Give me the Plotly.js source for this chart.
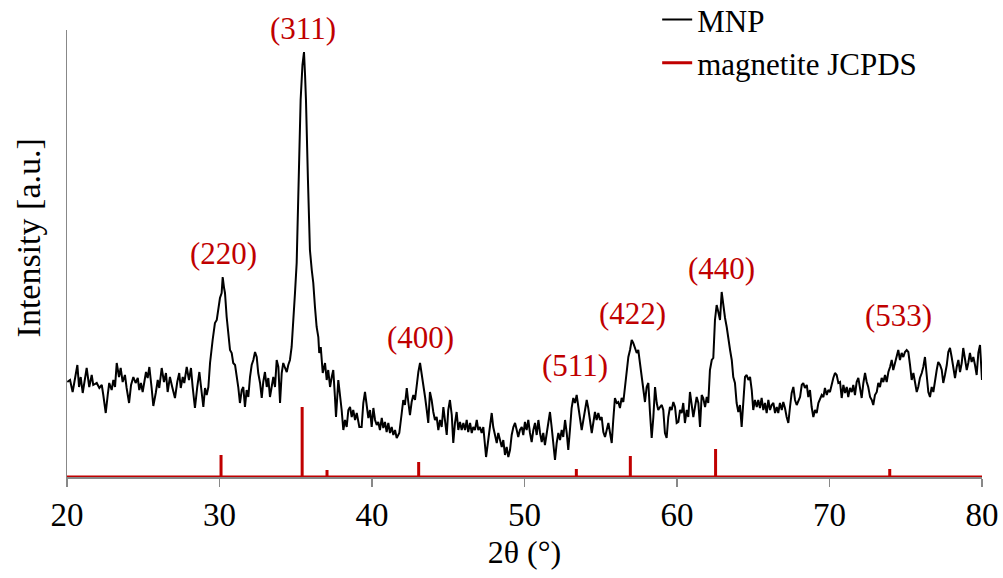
<!DOCTYPE html>
<html>
<head>
<meta charset="utf-8">
<script src="https://cdn.plot.ly/plotly-3.0.1.min.js"></script>
<style>
html,body{margin:0;padding:0;background:#fff;}
#chart{width:1003px;height:578px;}
</style>
</head>
<body>
<div id="chart"></div>
<script>
// Measured XRD pattern (MNP): 2θ (degrees) and intensity (a.u.)
const twoTheta = [
20.02,20.20,20.37,20.52,20.68,20.79,20.90,21.03,21.18,21.29,21.46,21.62,21.72,21.95,22.12,22.28,22.38,22.54,22.67,22.77,
22.93,23.04,23.15,23.26,23.41,23.52,23.65,23.80,23.91,24.07,24.20,24.35,24.50,24.64,24.74,24.85,24.96,25.07,25.18,25.29,
25.40,25.55,25.66,25.82,25.95,26.05,26.21,26.36,26.49,26.60,26.75,26.90,27.08,27.23,27.36,27.46,27.59,27.69,27.85,28.00,
28.13,28.24,28.39,28.54,28.68,28.79,28.94,29.05,29.16,29.27,29.38,29.55,29.70,29.82,29.92,30.03,30.14,30.21,30.30,30.36,
30.47,30.58,30.69,30.80,30.90,31.02,31.13,31.23,31.34,31.46,31.56,31.67,31.78,31.89,32.00,32.11,32.22,32.33,32.44,32.54,
32.66,32.77,32.87,32.98,33.10,33.20,33.31,33.42,33.53,33.64,33.75,33.86,33.97,34.08,34.18,34.30,34.41,34.51,34.62,34.73,
34.84,34.95,35.06,35.18,35.32,35.44,35.54,35.61,35.67,35.80,35.93,36.05,36.15,36.26,36.37,36.48,36.54,36.64,36.77,36.92,
37.03,37.13,37.25,37.36,37.46,37.57,37.64,37.79,37.90,38.01,38.12,38.23,38.34,38.45,38.56,38.67,38.77,38.89,39.00,39.17,
39.32,39.43,39.54,39.65,39.76,39.87,39.98,40.09,40.20,40.31,40.41,40.52,40.64,40.74,40.85,40.96,41.07,41.18,41.29,41.40,
41.51,41.62,41.79,41.95,42.05,42.16,42.28,42.38,42.49,42.60,42.71,42.82,42.93,43.04,43.15,43.26,43.36,43.48,43.59,43.69,
43.80,43.91,44.02,44.13,44.24,44.35,44.46,44.57,44.68,44.79,44.90,45.00,45.11,45.23,45.33,45.44,45.55,45.66,45.77,45.88,
45.99,46.10,46.21,46.31,46.43,46.54,46.64,46.75,46.87,46.97,47.08,47.19,47.30,47.48,47.63,47.74,47.85,47.95,48.07,48.18,
48.28,48.51,48.61,48.72,48.83,48.94,49.05,49.16,49.27,49.38,49.49,49.59,49.70,49.82,49.92,50.03,50.14,50.25,50.36,50.47,
50.58,50.69,50.80,50.91,51.02,51.13,51.23,51.34,51.46,51.56,51.67,51.78,51.89,52.00,52.11,52.22,52.33,52.44,52.54,52.66,
52.77,52.87,52.98,53.09,53.20,53.31,53.42,53.53,53.64,53.75,53.86,53.97,54.08,54.18,54.30,54.41,54.51,54.62,54.73,54.84,
54.95,55.06,55.17,55.28,55.39,55.50,55.61,55.72,55.82,55.93,56.05,56.15,56.26,56.37,56.48,56.59,56.70,56.81,56.92,57.03,
57.13,57.25,57.36,57.46,57.57,57.69,57.79,57.90,58.01,58.12,58.23,58.34,58.45,58.56,58.67,58.77,58.89,59.00,59.10,59.21,
59.32,59.43,59.54,59.65,59.76,59.87,59.98,60.09,60.20,60.31,60.41,60.52,60.64,60.74,60.85,60.96,61.07,61.18,61.29,61.40,
61.51,61.62,61.72,61.84,61.95,62.05,62.16,62.28,62.38,62.49,62.60,62.71,62.82,62.93,63.04,63.15,63.26,63.36,63.48,63.59,
63.69,63.80,63.91,64.02,64.13,64.24,64.35,64.46,64.57,64.68,64.79,64.90,65.00,65.11,65.23,65.33,65.44,65.55,65.66,65.77,
65.88,65.99,66.10,66.21,66.32,66.43,66.54,66.64,66.75,66.87,66.97,67.08,67.19,67.30,67.41,67.52,67.63,67.74,67.85,67.95,
68.07,68.18,68.28,68.39,68.51,68.61,68.72,68.83,68.94,69.05,69.16,69.27,69.49,69.60,69.70,69.82,69.92,70.03,70.14,70.25,
70.36,70.47,70.58,70.69,70.80,70.91,71.02,71.13,71.23,71.34,71.46,71.56,71.67,71.78,71.89,72.00,72.11,72.22,72.33,72.44,
72.54,72.66,72.77,72.87,72.98,73.10,73.20,73.31,73.42,73.53,73.64,73.75,73.86,73.97,74.08,74.18,74.30,74.41,74.51,74.62,
74.73,74.84,74.95,75.06,75.17,75.28,75.39,75.50,75.61,75.72,75.82,75.93,76.05,76.15,76.26,76.37,76.48,76.59,76.70,76.81,
76.92,77.03,77.13,77.25,77.36,77.46,77.57,77.69,77.79,77.90,78.01,78.12,78.23,78.34,78.45,78.56,78.67,78.77,78.89,79.00,
79.10,79.21,79.32,79.43,79.54,79.65,79.76,79.87,80.00
];
const intensity = [
95,97,85,100,112,90,100,84,97,109,90,102,92,94,89,92,82,64,82,94,
87,97,90,114,100,109,95,102,89,74,92,100,94,99,87,94,85,97,105,99,
110,89,71,84,97,89,109,95,104,85,100,90,79,95,104,89,100,94,110,97,
109,90,69,90,105,90,70,89,82,90,114,137,154,157,167,179,184,200,189,184,
160,144,127,124,114,112,102,90,74,87,90,70,87,80,100,112,117,125,120,104,
94,79,95,105,90,99,80,92,100,90,117,110,74,104,114,109,105,112,117,130,
154,184,214,297,377,412,425,402,377,297,227,207,194,170,150,140,124,130,104,114,
97,107,90,100,107,80,60,97,84,67,47,57,50,67,70,60,67,57,64,50,
50,74,85,70,59,67,50,69,57,52,55,47,59,49,55,45,54,44,50,42,
47,39,44,64,77,72,89,75,62,75,82,77,94,105,114,104,94,80,67,54,
85,77,65,57,60,47,57,50,70,57,42,67,77,62,34,54,65,47,55,47,
54,47,57,45,54,44,50,47,57,47,50,44,50,20,37,47,64,50,40,34,
44,30,37,22,30,20,27,42,50,54,47,40,47,50,42,55,47,57,44,35,
47,54,42,57,44,35,44,32,44,57,65,50,30,17,34,44,37,47,40,57,
44,27,47,69,79,74,82,70,57,47,57,67,77,69,54,44,54,65,57,64,
57,60,45,40,47,54,44,34,57,79,74,75,69,79,75,90,104,120,127,137,
134,129,124,127,114,104,90,75,90,94,64,39,60,90,74,67,70,72,67,44,
39,60,70,67,75,70,54,55,67,64,74,54,67,60,85,74,60,70,80,74,
50,82,79,70,80,74,107,117,119,157,172,165,157,185,170,159,150,137,127,117,
100,94,74,65,72,50,74,100,102,97,100,87,67,77,70,77,69,79,67,74,
64,77,67,72,74,64,70,64,74,67,75,69,60,54,70,84,90,77,72,75,
80,92,94,89,92,80,87,70,60,67,64,74,82,80,89,82,87,85,94,99,
104,102,94,95,79,92,84,90,80,89,85,92,82,95,99,90,79,94,104,95,
90,80,77,72,82,85,94,90,99,95,102,95,105,110,117,107,115,120,127,117,
124,120,125,127,125,112,97,104,95,85,90,99,104,110,120,105,85,80,90,85,
99,107,115,112,107,94,102,112,125,129,120,107,99,110,117,105,114,129,117,107,
114,124,115,120,112,102,124,132,97
];

// Magnetite JCPDS reference lines: 2θ position and relative intensity
const refPos = [30.10, 35.42, 37.05, 43.06, 53.40, 56.94, 62.53, 73.95];
const refInt = [22, 70, 7, 15, 8, 21, 28, 8];

// Miller index labels and their placement (the (311) label sits at the top edge, nudged up)
const hklLabels = ["(220)", "(311)", "(400)", "(511)", "(422)", "(440)", "(533)"];
const hklX = [30.23, 35.48, 43.15, 53.31, 57.05, 62.89, 74.50];
const hklY = [224, 445, 140, 112, 164, 209, 162];
const hklShift = [0, 4, 0, 0, 0, 0, 0];

const xTicks = [20, 30, 40, 50, 60, 70, 80];

// Build the stick pattern (baseline with vertical sticks) from the reference arrays
const refX = [xTicks[0]];
const refY = [0];
refPos.forEach((p, i) => {
  refX.push(p, p, p);
  refY.push(0, refInt[i], 0);
});
refX.push(xTicks[xTicks.length - 1]);
refY.push(0);

const RED = '#C00000';
const FONT = '"Liberation Serif", "Times New Roman", serif';

const traces = [
  {
    x: twoTheta, y: intensity, type: 'scatter', mode: 'lines', name: 'MNP',
    line: {color: '#000000', width: 2}
  },
  {
    x: refX, y: refY, type: 'scatter', mode: 'lines', name: 'magnetite JCPDS',
    line: {color: RED, width: 3}
  }
];

const annotations = hklLabels.map((t, i) => ({
  x: hklX[i], y: hklY[i], xref: 'x', yref: 'y', text: t, showarrow: false,
  yshift: hklShift[i],
  font: {family: FONT, size: 31, color: RED}, xanchor: 'center', yanchor: 'middle'
}));
annotations.push({
  xref: 'paper', yref: 'paper', x: -0.042, y: 0.535, text: 'Intensity [a.u.]',
  textangle: -90, showarrow: false, xanchor: 'center', yanchor: 'middle',
  font: {family: FONT, size: 34, color: '#000'}
});

const layout = {
  width: 1003, height: 578,
  margin: {l: 67, r: 21, t: 30, b: 101, autoexpand: false},
  paper_bgcolor: '#fff', plot_bgcolor: '#fff',
  font: {family: FONT, color: '#000'},
  showlegend: true,
  legend: {
    x: 0.645, y: 1.083, xanchor: 'left', yanchor: 'top',
    bgcolor: 'rgba(0,0,0,0)', font: {family: FONT, size: 31, color: '#000'},
    itemwidth: 30, tracegroupgap: 0
  },
  xaxis: {
    range: [20, 80], tickvals: xTicks, ticktext: xTicks.map(String),
    ticks: 'outside', ticklen: 8, tickwidth: 1.2, tickcolor: '#888',
    showline: true, linecolor: '#888', linewidth: 1.5,
    showgrid: false, zeroline: false,
    tickfont: {family: FONT, size: 33, color: '#000'},
    title: {text: '2θ (°)', font: {family: FONT, size: 32, color: '#000'}, standoff: 8}
  },
  yaxis: {
    range: [0, 447], showticklabels: false, ticks: '',
    showline: true, linecolor: '#888', linewidth: 1.5,
    showgrid: false, zeroline: false
  },
  annotations: annotations
};

Plotly.newPlot('chart', traces, layout, {displayModeBar: false, staticPlot: true});
</script>
</body>
</html>
